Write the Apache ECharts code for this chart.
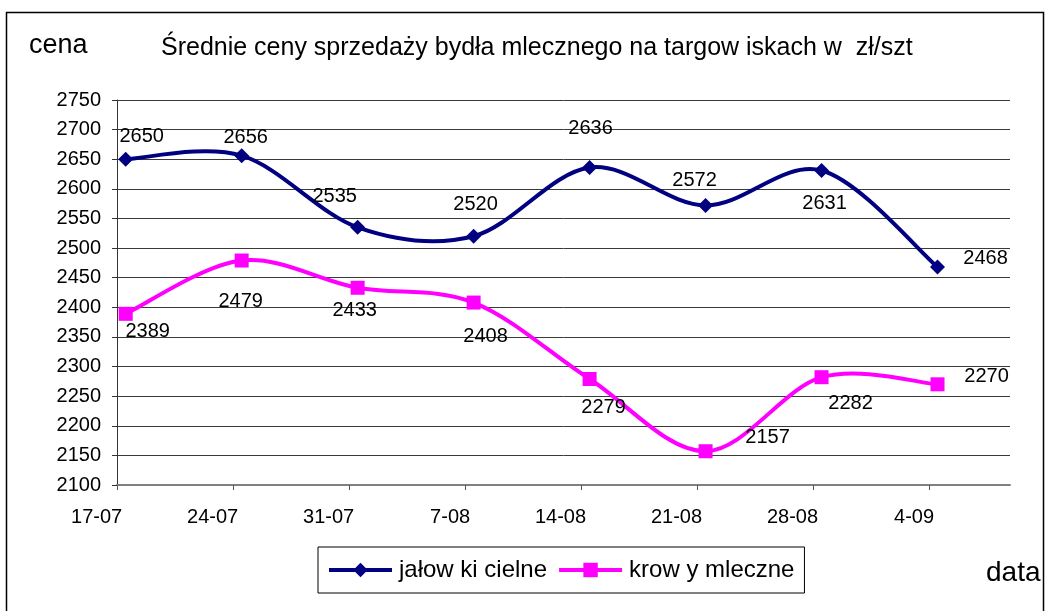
<!DOCTYPE html>
<html>
<head>
<meta charset="utf-8">
<script src="https://cdn.jsdelivr.net/npm/echarts@6.0.0/dist/echarts.min.js"></script>
<style>
html,body{margin:0;padding:0;background:#fff;}
#c{width:1048px;height:611px;}
</style>
</head>
<body>
<div id="c"></div>
<script>
// ---- data ----
const categories = ['17-07', '24-07', '31-07', '7-08', '14-08', '21-08', '28-08', '4-09'];
const jalowki = [2650, 2656, 2535, 2520, 2636, 2572, 2631, 2468];
const krowy = [2389, 2479, 2433, 2408, 2279, 2157, 2282, 2270];
const seriesNames = ['jałow ki cielne', 'krow y mleczne'];
const yTicks = {min: 2100, max: 2750, step: 50};

// ---- layout (label offsets relative to markers, in px) ----
const jalowkiLabelOffsets = [[16,-23],[4,-18],[-23,-31],[2,-32],[1,-39],[-11,-25],[3,33],[48,-9]];
const krowyLabelOffsets = [[22,18],[-1,41],[-3,23],[12,34],[14,29],[62,-14],[29,26],[49,-8]];
const pointShift = 0.075;   // markers sit slightly right of the category ticks
const labelShift = 0.045;   // tick labels sit slightly right of their tick

const FONT = '"Liberation Sans", Arial, sans-serif';
const BLUE = '#000080', PINK = '#ff00ff';

function build(values, offsets) {
  return values.map((v, i) => ({
    value: [i + pointShift, v],
    label: {offset: offsets[i]}
  }));
}

// smooth curve (Excel-like Catmull-Rom) through points projected by the chart's own axes
function curveSeries(values, color) {
  return {
    type: 'custom',
    z: 1,
    silent: true,
    data: values.map((v, i) => [i + pointShift, v]),
    renderItem: function (params, api) {
      if (params.dataIndex !== 0) return null;
      const pts = values.map((v, i) => api.coord([i + pointShift, v]));
      const children = [];
      for (let i = 0; i < pts.length - 1; i++) {
        const p0 = pts[i - 1] || pts[i];
        const p1 = pts[i];
        const p2 = pts[i + 1];
        const p3 = pts[i + 2] || pts[i + 1];
        children.push({
          type: 'bezierCurve',
          shape: {
            x1: p1[0], y1: p1[1],
            cpx1: p1[0] + (p2[0] - p0[0]) / 6, cpy1: p1[1] + (p2[1] - p0[1]) / 6,
            cpx2: p2[0] - (p3[0] - p1[0]) / 6, cpy2: p2[1] - (p3[1] - p1[1]) / 6,
            x2: p2[0], y2: p2[1]
          },
          style: {fill: null, stroke: color, lineWidth: 4, lineJoin: 'round', lineCap: 'round'}
        });
      }
      return {type: 'group', children: children};
    }
  };
}

function markerSeries(name, values, offsets, symbol, size, color) {
  return {
    name: name,
    type: 'line',
    z: 3,
    symbol: symbol,
    symbolSize: size,
    showAllSymbol: true,
    color: color,
    lineStyle: {width: 0, opacity: 0, color: color},
    itemStyle: {color: color},
    label: {show: true, position: 'inside', color: '#000', fontSize: 20, fontFamily: FONT,
            formatter: p => String(p.value[1])},
    data: build(values, offsets)
  };
}

const chart = echarts.init(document.getElementById('c'), null, {renderer: 'canvas'});
chart.setOption({
  animation: false,
  backgroundColor: '#fff',
  grid: {left: 117, top: 100, right: 38, bottom: 126, containLabel: false},
  xAxis: {
    type: 'value',
    min: 0,
    max: 7.7,
    interval: 1,
    axisLine: {show: true, lineStyle: {color: '#808080', width: 2}},
    axisTick: {show: true, length: 5, lineStyle: {color: '#555', width: 1}, customValues: categories.map((c, i) => i)},
    axisLabel: {
      customValues: categories.map((c, i) => i + labelShift),
      formatter: v => categories[Math.round(v)] || '',
      align: 'right',
      margin: 22,
      color: '#000',
      fontSize: 20,
      fontFamily: FONT
    },
    splitLine: {show: false}
  },
  yAxis: {
    type: 'value',
    min: yTicks.min,
    max: yTicks.max,
    interval: yTicks.step,
    axisLine: {show: true, lineStyle: {color: '#333', width: 1}},
    axisTick: {show: true, length: 5, lineStyle: {color: '#333'}},
    axisLabel: {color: '#000', fontSize: 20, fontFamily: FONT, margin: 16, formatter: v => String(v)},
    splitLine: {show: true, lineStyle: {color: '#3a3a3a', width: 1}}
  },
  legend: {
    left: 318,
    top: 547,
    orient: 'horizontal',
    itemWidth: 63,
    itemHeight: 18,
    itemGap: 10,
    padding: [11, 10, 11, 9],
    borderColor: '#000',
    borderWidth: 1,
    textStyle: {color: '#000', fontSize: 24, fontFamily: FONT, padding: [0, 0, 0, 2]},
    data: [
      {name: seriesNames[0], lineStyle: {color: BLUE, width: 4, opacity: 1}, itemStyle: {color: BLUE}},
      {name: seriesNames[1], lineStyle: {color: PINK, width: 4, opacity: 1}, itemStyle: {color: PINK}}
    ]
  },
  series: [
    curveSeries(jalowki, BLUE),
    curveSeries(krowy, PINK),
    markerSeries(seriesNames[0], jalowki, jalowkiLabelOffsets, 'diamond', 15, BLUE),
    markerSeries(seriesNames[1], krowy, krowyLabelOffsets, 'rect', 14, PINK)
  ],
  graphic: [
    {type: 'rect', shape: {x: 6.5, y: 12.5, width: 1037, height: 620}, style: {fill: 'none', stroke: '#000', lineWidth: 1.5}, silent: true},
    {type: 'text', style: {x: 161, y: 48, text: 'Średnie ceny sprzedaży bydła mlecznego na targow iskach w  zł/szt', font: '25px ' + FONT, fill: '#000', verticalAlign: 'middle'}},
    {type: 'text', style: {x: 29, y: 46, text: 'cena', font: '27px ' + FONT, fill: '#000', verticalAlign: 'middle'}},
    {type: 'text', style: {x: 986, y: 573, text: 'data', font: '28px ' + FONT, fill: '#000', verticalAlign: 'middle'}}
  ]
});
</script>
</body>
</html>
